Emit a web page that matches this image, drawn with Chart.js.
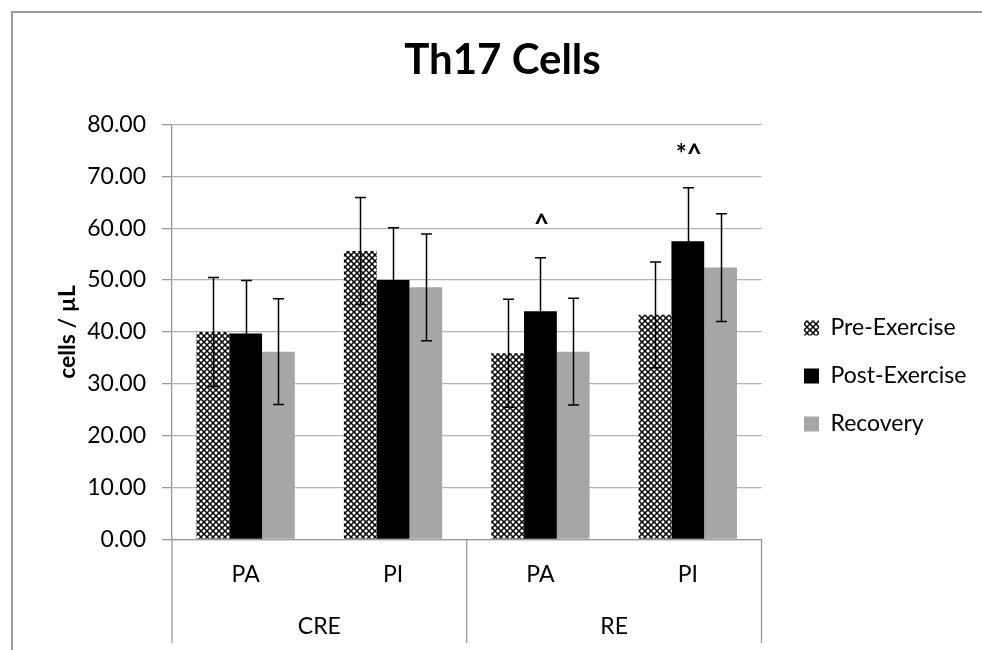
<!DOCTYPE html>
<html><head><meta charset="utf-8">
<script src="https://cdn.jsdelivr.net/npm/chart.js@4.4.0/dist/chart.umd.min.js"></script>
<style>html,body{margin:0;padding:0;background:#fff}#wrap{width:982px;height:650px;position:relative}canvas{display:block}</style>
</head><body><div id="wrap"><canvas id="c" width="982" height="650"></canvas></div>
<script>
// ---- data ----
const categories = ['PA', 'PI', 'PA', 'PI'];
const groupOf = [0, 0, 1, 1];
const groupNames = ['CRE', 'RE'];
const seriesNames = ['Pre-Exercise', 'Post-Exercise', 'Recovery'];
const preValues = [40.0, 55.6, 35.9, 43.3];
const postValues = [39.7, 50.0, 44.0, 57.5];
const recValues = [36.2, 48.6, 36.2, 52.4];
const preErr = [10.5, 10.3, 10.4, 10.2];
const postErr = [10.2, 10.1, 10.3, 10.3];
const recErr = [10.2, 10.3, 10.3, 10.4];
const postMarks = ['', '', '^', '*^'];
const yTickLabels = ['0.00', '10.00', '20.00', '30.00', '40.00', '50.00', '60.00', '70.00', '80.00'];
const chartTitle = 'Th17 Cells';
const yTitle = 'cells / \u00B5L';

// ---- pattern for Pre-Exercise ----
function makePattern() {
  const t = document.createElement('canvas');
  t.width = 6; t.height = 6;
  const g = t.getContext('2d');
  g.fillStyle = '#fff'; g.fillRect(0, 0, 6, 6);
  g.strokeStyle = '#000'; g.lineWidth = 1.5;
  g.beginPath();
  g.moveTo(-1, -1); g.lineTo(7, 7);
  g.moveTo(7, -1); g.lineTo(-1, 7);
  g.stroke();
  return document.getElementById('c').getContext('2d').createPattern(t, 'repeat');
}
const prePattern = makePattern();

const FONT = 'Lato';
const errs = [preErr, postErr, recErr];

const framePlugin = {
  id: 'frame',
  beforeDraw(chart) {
    const ctx = chart.ctx;
    ctx.save();
    ctx.fillStyle = '#fff';
    ctx.fillRect(0, 0, chart.width, chart.height);
    ctx.strokeStyle = '#999';
    ctx.lineWidth = 2;
    ctx.beginPath();
    ctx.moveTo(12, chart.height + 2); ctx.lineTo(12, 12); ctx.lineTo(chart.width + 2, 12);
    ctx.stroke();
    ctx.restore();
  }
};

const legendPlugin = {
  id: 'legendShift',
  beforeLayout(chart) {
    const lg = chart.legend;
    if (lg && !lg._patched) {
      const orig = lg.fit.bind(lg);
      lg.fit = function () { orig(); this.width = 220.5; };
      lg._patched = true;
    }
  },
  afterLayout(chart) {
    const lg = chart.legend;
    if (!lg) return;
    lg.left += 17.5; lg.right += 17.5;
    lg.top += 51; lg.bottom += 51;
  }
};

const errorPlugin = {
  id: 'errorBars',
  afterDatasetsDraw(chart) {
    const ctx = chart.ctx;
    const ys = chart.scales.y;
    ctx.save();
    ctx.strokeStyle = '#000';
    ctx.lineWidth = 1.5;
    chart.data.datasets.forEach((ds, di) => {
      const meta = chart.getDatasetMeta(di);
      meta.data.forEach((bar, i) => {
        const v = ds.data[i], e = errs[di][i];
        const yt = ys.getPixelForValue(v + e), yb = ys.getPixelForValue(v - e);
        const x = Math.round(bar.x) + 0.5;
        ctx.beginPath();
        ctx.moveTo(x, yt); ctx.lineTo(x, yb);
        ctx.moveTo(x - 5.5, yt); ctx.lineTo(x + 5.5, yt);
        ctx.moveTo(x - 5.5, yb); ctx.lineTo(x + 5.5, yb);
        ctx.stroke();
      });
    });
    // significance marks above Post-Exercise
    const meta = chart.getDatasetMeta(1);
    ctx.fillStyle = '#000';
    ctx.font = 'bold 26px ' + FONT;
    ctx.textAlign = 'center';
    ctx.textBaseline = 'middle';
    meta.data.forEach((bar, i) => {
      if (!postMarks[i]) return;
      const yt = ys.getPixelForValue(postValues[i] + postErr[i]);
      ctx.fillText(postMarks[i], bar.x + 1, yt - 33);
    });
    ctx.restore();
  }
};

const groupPlugin = {
  id: 'groups',
  afterDraw(chart) {
    const ctx = chart.ctx;
    const xs = chart.scales.x;
    const area = chart.chartArea;
    const bounds = [area.left];
    for (let i = 1; i < categories.length; i++) {
      if (groupOf[i] !== groupOf[i - 1]) {
        bounds.push((xs.getPixelForValue(i - 1) + xs.getPixelForValue(i)) / 2);
      }
    }
    bounds.push(area.right);
    ctx.save();
    ctx.strokeStyle = '#999';
    ctx.lineWidth = 1.3;
    ctx.beginPath();
    bounds.forEach(b => { ctx.moveTo(b, area.bottom); ctx.lineTo(b, 643); });
    ctx.stroke();
    ctx.fillStyle = '#000';
    ctx.font = '23px ' + FONT;
    ctx.textAlign = 'center';
    ctx.textBaseline = 'alphabetic';
    groupNames.forEach((g, gi) => {
      ctx.fillText(g, (bounds[gi] + bounds[gi + 1]) / 2, 634);
    });
    ctx.restore();
  }
};

new Chart(document.getElementById('c'), {
  type: 'bar',
  data: {
    labels: categories,
    datasets: [
      { label: seriesNames[0], data: preValues, backgroundColor: prePattern, borderWidth: 0 },
      { label: seriesNames[1], data: postValues, backgroundColor: '#000000', borderWidth: 0 },
      { label: seriesNames[2], data: recValues, backgroundColor: '#a6a6a6', borderWidth: 0 }
    ]
  },
  options: {
    responsive: false,
    animation: false,
    devicePixelRatio: 1,
    datasets: { bar: { categoryPercentage: 0.667, barPercentage: 1.0 } },
    layout: { padding: { left: 23, right: 0, top: 0, bottom: 0 } },
    plugins: {
      tooltip: { enabled: false },
      title: {
        display: true, text: chartTitle, color: '#000',
        font: { family: FONT, size: 42, weight: 'bold', lineHeight: 1.2 },
        padding: { top: 35, bottom: 39 }
      },
      legend: {
        position: 'right', align: 'center',
        labels: {
          color: '#000', font: { family: FONT, size: 23 },
          boxWidth: 15, boxHeight: 15, padding: 25
        }
      }
    },
    scales: {
      x: {
        ticks: { color: '#000', font: { family: FONT, size: 23 }, padding: 21 },
        grid: { display: false, drawTicks: false },
        border: { display: true, color: '#999', width: 1.3 },
        afterFit: s => { s.height = 110.5; }
      },
      y: {
        min: 0, max: 80,
        ticks: {
          stepSize: 10, color: '#000', font: { family: FONT, size: 23 }, padding: 16,
          callback: (v, i) => yTickLabels[i]
        },
        grid: { color: '#b3b3b3', lineWidth: 1.3, tickLength: 10, tickColor: '#999', drawTicks: true },
        border: { display: true, color: '#999', width: 1.3 },
        title: {
          display: true, text: yTitle, color: '#000',
          font: { family: FONT, size: 23, weight: 'bold', lineHeight: 1.2 },
          padding: { top: 31, bottom: 0 }
        },
        afterFit: s => { s.width = 149; }
      }
    }
  },
  plugins: [framePlugin, legendPlugin, errorPlugin, groupPlugin]
});
</script>
</body></html>
